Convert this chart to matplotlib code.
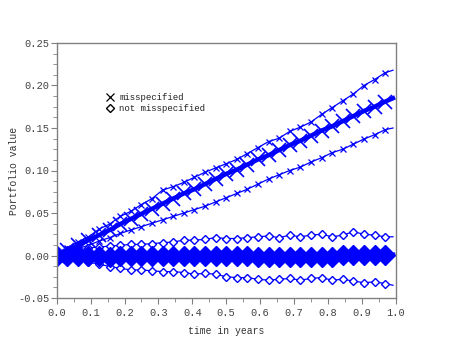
import numpy as np
import matplotlib
matplotlib.use("Agg")
import matplotlib.pyplot as plt
from matplotlib.ticker import MultipleLocator, FormatStrFormatter

t = [k / 32 for k in range(32)] + [0.992]

miss_mean = [0.000, 0.006, 0.012, 0.018, 0.024, 0.030, 0.037, 0.043, 0.049, 0.055,
             0.061, 0.067, 0.073, 0.078, 0.084, 0.090, 0.096, 0.101, 0.107, 0.113,
             0.118, 0.124, 0.130, 0.135, 0.141, 0.147, 0.152, 0.158, 0.164, 0.170,
             0.175, 0.181, 0.185]
miss_upper = [0.000, 0.009, 0.016, 0.022, 0.031, 0.037, 0.046, 0.052, 0.060, 0.067,
              0.077, 0.081, 0.086, 0.092, 0.098, 0.103, 0.108, 0.113, 0.120, 0.127,
              0.134, 0.138, 0.146, 0.151, 0.157, 0.166, 0.174, 0.182, 0.190, 0.200,
              0.207, 0.215, 0.218]
miss_lower = [0.000, 0.004, 0.008, 0.012, 0.017, 0.021, 0.026, 0.030, 0.034, 0.038,
              0.042, 0.046, 0.050, 0.054, 0.058, 0.063, 0.068, 0.073, 0.078, 0.084,
              0.090, 0.095, 0.100, 0.104, 0.110, 0.115, 0.121, 0.125, 0.131, 0.137,
              0.142, 0.148, 0.150]

nm_mean = [0.000, -0.001, -0.001, -0.001, -0.001, -0.002, -0.001, -0.001, -0.001, -0.001,
           -0.001, -0.001, -0.001, -0.001, -0.001, -0.001, -0.001, -0.001, -0.001, -0.002,
           -0.002, -0.002, -0.002, -0.002, -0.002, -0.002, -0.002, 0.001, 0.001, 0.001,
           0.001, 0.001, 0.001]
nm_upper = [0.000, 0.004, 0.006, 0.009, 0.010, 0.011, 0.012, 0.013, 0.013, 0.014,
            0.015, 0.016, 0.018, 0.018, 0.019, 0.021, 0.020, 0.020, 0.021, 0.022,
            0.023, 0.021, 0.024, 0.022, 0.024, 0.025, 0.022, 0.024, 0.028, 0.025,
            0.024, 0.022, 0.022]
nm_lower = [0.000, -0.004, -0.006, -0.008, -0.010, -0.013, -0.015, -0.017, -0.017, -0.018,
            -0.019, -0.019, -0.020, -0.022, -0.021, -0.022, -0.025, -0.026, -0.026, -0.028,
            -0.029, -0.028, -0.027, -0.029, -0.027, -0.026, -0.029, -0.028, -0.030, -0.032,
            -0.031, -0.033, -0.035]

BLUE = "#0000ff"
GRAY = "#808080"
MONO = "Liberation Mono"
marks = list(range(32))

fig = plt.figure(figsize=(4.52, 3.41), dpi=100)
ax = fig.add_axes([56.7 / 452, 43 / 341, 339 / 452, 255 / 341])

# misspecified
ax.plot(t, miss_upper, color=BLUE, lw=0.9, marker="x", ms=5, mew=0.9, markevery=marks)
ax.plot(t, miss_lower, color=BLUE, lw=0.9, marker="x", ms=5, mew=0.9, markevery=marks)
ax.plot(t, miss_mean, color=BLUE, lw=3.2, marker="x", ms=10, mew=1.2, markevery=marks)

# not misspecified
ax.plot(t, nm_upper, color=BLUE, lw=0.9, marker="D", ms=4, mew=1.0, mfc="white", markevery=marks)
ax.plot(t, nm_lower, color=BLUE, lw=0.9, marker="D", ms=4, mew=1.0, mfc="white", markevery=marks)
ax.plot(t, nm_mean, color=BLUE, lw=3.2, marker="D", ms=10, mew=1.0, markevery=marks)

ax.set_xlim(0, 1.0)
ax.set_ylim(-0.05, 0.25)
ax.xaxis.set_major_locator(MultipleLocator(0.1))
ax.xaxis.set_minor_locator(MultipleLocator(0.05))
ax.yaxis.set_major_locator(MultipleLocator(0.05))
ax.yaxis.set_minor_locator(MultipleLocator(0.0125))
ax.xaxis.set_major_formatter(FormatStrFormatter("%.1f"))
ax.yaxis.set_major_formatter(FormatStrFormatter("%.2f"))

for s in ax.spines.values():
    s.set_color(GRAY)
    s.set_linewidth(1.0)
ax.tick_params(which="both", direction="out", color=GRAY, labelcolor="#444444",
               top=False, right=False)
ax.tick_params(which="major", length=4, labelsize=7.5)
ax.tick_params(which="minor", length=3)
ax.tick_params(axis="y", which="major", pad=1)
ax.tick_params(axis="x", which="major", pad=3)
for lab in ax.get_xticklabels() + ax.get_yticklabels():
    lab.set_family(MONO)

ax.set_xlabel("time in years", family=MONO, fontsize=7, color="#333333")
ax.set_ylabel("Portfolio value", family=MONO, fontsize=7, color="#333333")
ax.xaxis.set_label_coords(0.5, -0.11)
ax.yaxis.set_label_coords(-0.11, 0.5)

# legend drawn as markers + text
ax.plot([0.158], [0.186], marker="x", ms=6, mew=0.9, color="black", ls="none")
ax.plot([0.158], [0.1735], marker="D", ms=4.5, mew=1.0, mfc="white", color="black", ls="none")
ax.text(0.185, 0.186, "misspecified", family=MONO, fontsize=6.5, va="center", color="#222222")
ax.text(0.185, 0.1735, "not misspecified", family=MONO, fontsize=6.5, va="center", color="#222222")

fig.savefig("out.png", dpi=100)
